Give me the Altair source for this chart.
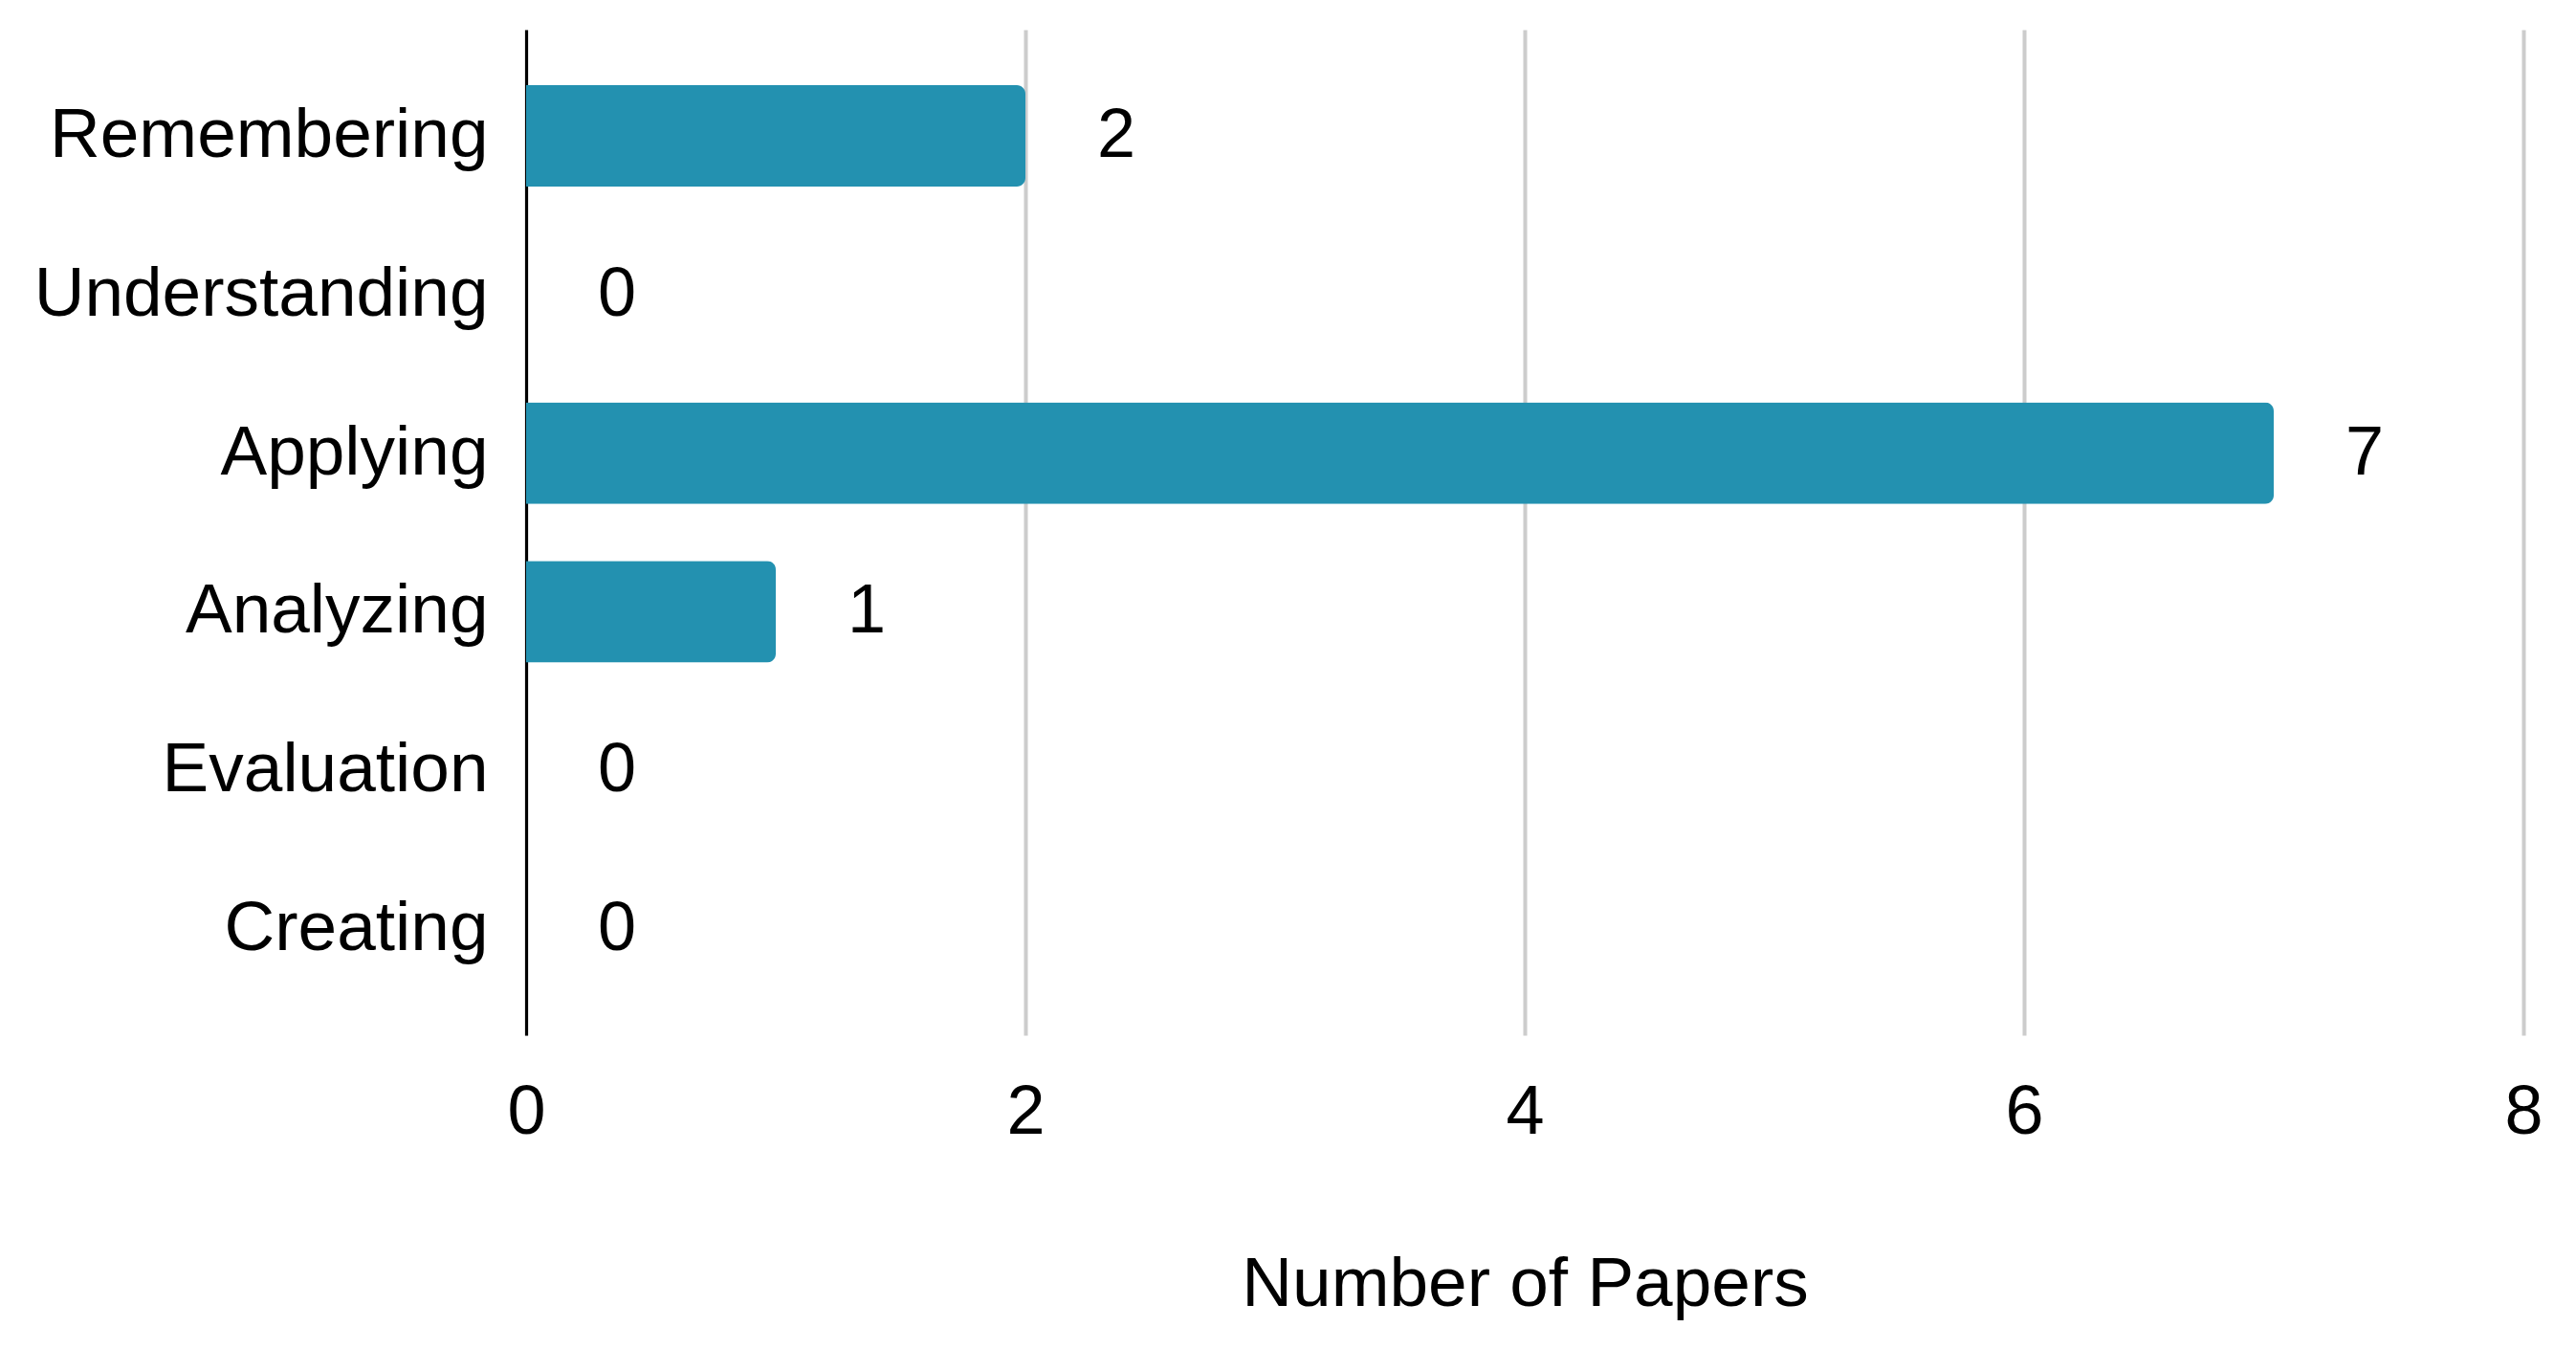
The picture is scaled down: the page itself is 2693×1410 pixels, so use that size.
import altair as alt
import pandas as pd

categories = ["Remembering", "Understanding", "Applying", "Analyzing", "Evaluation", "Creating"]
papers = [2, 0, 7, 1, 0, 0]

df = pd.DataFrame({"level": categories, "papers": papers})

FONT = "Liberation Sans"
y_enc = alt.Y("level:N", sort=categories, title=None,
              scale=alt.Scale(paddingInner=0.36, paddingOuter=0.35),
              axis=alt.Axis(labelFontSize=73, labelFont=FONT, labelColor="#000000",
                            labelPadding=40, labelLimit=0, ticks=False, domain=True,
                            domainColor="#000000", domainWidth=3, grid=False))
x_enc = alt.X("papers:Q", title="Number of Papers",
              scale=alt.Scale(domain=[0, 8], nice=False),
              axis=alt.Axis(values=[0, 2, 4, 6, 8], format="d", labelFontSize=72,
                            labelFont=FONT, labelColor="#000000", labelPadding=45,
                            labelFlush=False,
                            ticks=False, domain=False, grid=True, gridColor="#cccccc",
                            gridWidth=4, titleFontSize=73, titleFont=FONT,
                            titleFontWeight="normal", titleColor="#000000",
                            titlePadding=108))

bars = alt.Chart(df).mark_bar(color="#2391b0", cornerRadiusEnd=9).encode(x=x_enc, y=y_enc)
labels = alt.Chart(df).mark_text(align="left", baseline="middle", dx=75, fontSize=72,
                                 font=FONT, color="#000000").encode(
    x="papers:Q", y=alt.Y("level:N", sort=categories), text="papers:Q")

chart = (bars + labels).properties(
    width=2088, height=1051,
    autosize=alt.AutoSizeParams(type="none"),
    padding={"left": 542, "top": 23, "right": 40, "bottom": 300},
    view=alt.ViewBackground(stroke=None, strokeWidth=0),
).configure_view(stroke=None, strokeWidth=0).configure(background="#ffffff")

chart.save("out.html", embed_options={"renderer": "svg", "actions": False})
